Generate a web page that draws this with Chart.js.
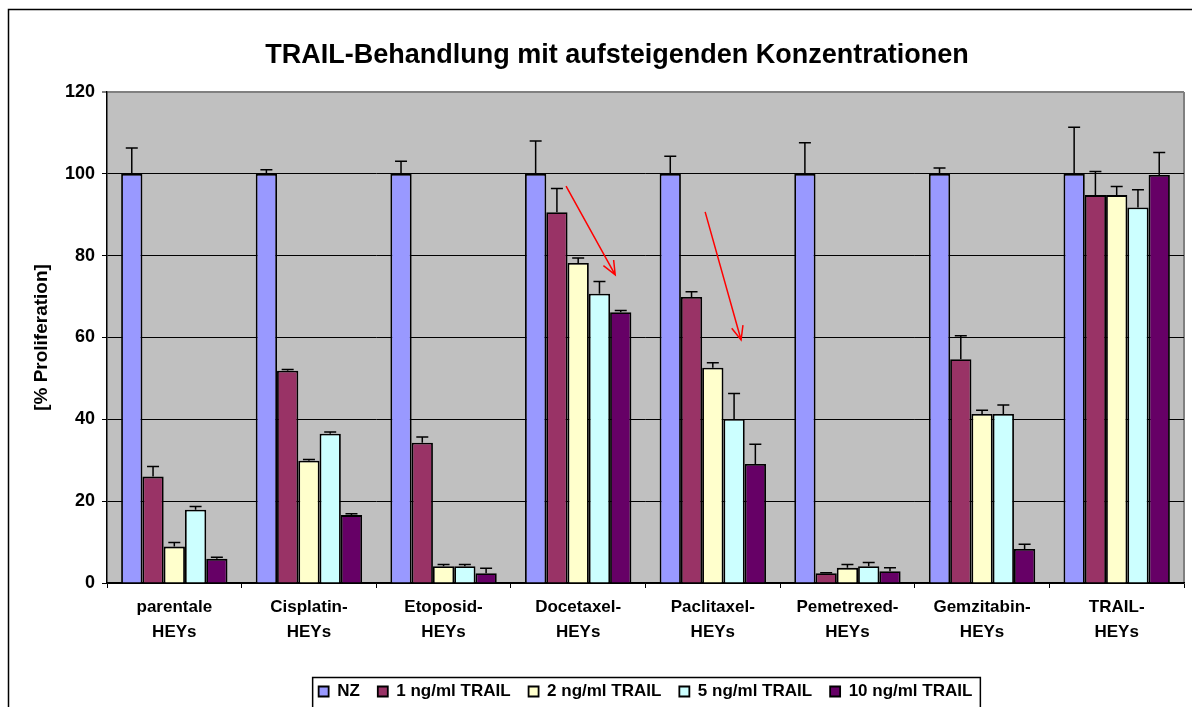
<!DOCTYPE html>
<html>
<head>
<meta charset="utf-8">
<script src="https://cdn.jsdelivr.net/npm/chart.js@4.4.1/dist/chart.umd.min.js"></script>
<style>
  html, body { margin:0; padding:0; overflow:hidden; background:#fff; }
  #wrap { width:1192px; height:710px; position:relative; }
</style>
</head>
<body>
<div id="wrap"><canvas id="chart"></canvas></div>
<script>
const categories = [
  ['parentale','HEYs'], ['Cisplatin-','HEYs'], ['Etoposid-','HEYs'], ['Docetaxel-','HEYs'],
  ['Paclitaxel-','HEYs'], ['Pemetrexed-','HEYs'], ['Gemzitabin-','HEYs'], ['TRAIL-','HEYs']
];
const seriesNames = ['NZ', '1 ng/ml TRAIL', '2 ng/ml TRAIL', '5 ng/ml TRAIL', '10 ng/ml TRAIL'];
const nz      = [100, 100, 100, 100, 100, 100, 100, 100];
const trail1  = [26.0, 51.9, 34.3, 90.6, 69.9, 2.4, 54.7, 94.8];
const trail2  = [8.9, 29.9, 4.1, 78.2, 52.6, 3.7, 41.3, 94.8];
const trail5  = [17.9, 36.5, 4.1, 70.7, 40.1, 4.1, 41.3, 91.8];
const trail10 = [5.9, 16.6, 2.4, 66.2, 29.1, 2.9, 8.3, 99.7];
const nzErr      = [6.3, 1.0, 3.1, 8.0, 4.3, 7.6, 1.4, 11.4];
const trail1Err  = [2.5, 0.3, 1.4, 5.8, 1.3, 0.1, 5.7, 5.8];
const trail2Err  = [1.0, 0.3, 0.4, 1.2, 1.2, 0.8, 0.9, 2.1];
const trail5Err  = [0.8, 0.4, 0.4, 3.0, 6.2, 0.9, 2.2, 4.3];
const trail10Err = [0.4, 0.3, 1.2, 0.4, 4.8, 0.8, 1.2, 5.5];
const yTicks = [0, 20, 40, 60, 80, 100, 120];
// red arrows: [category position, value]
const arrowFrom = [[2.91, 97.0], [3.943, 90.7]];
const arrowTo   = [[3.275, 75.3], [4.21, 59.4]];

const colors = ['#9999FF', '#993366', '#FFFFCC', '#CCFFFF', '#660066'];
const values = [nz, trail1, trail2, trail5, trail10];
const errors = [nzErr, trail1Err, trail2Err, trail5Err, trail10Err];
const FONT = '"Liberation Sans", Arial, sans-serif';

const backdrop = {
  id: 'backdrop',
  beforeDraw(chart) {
    const {ctx, chartArea: a} = chart;
    ctx.save();
    ctx.fillStyle = '#fff';
    ctx.fillRect(0, 0, chart.width, chart.height);
    ctx.strokeStyle = '#000';
    ctx.lineWidth = 1.5;
    ctx.strokeRect(8.5, 9.5, chart.width + 40, chart.height + 40);
    ctx.fillStyle = '#C0C0C0';
    ctx.fillRect(a.left, a.top, a.right - a.left, a.bottom - a.top);
    ctx.strokeStyle = '#808080';
    ctx.lineWidth = 2;
    ctx.beginPath();
    ctx.moveTo(a.right, a.top);
    ctx.lineTo(a.right, a.bottom);
    ctx.stroke();
    // legend frame
    const lg = chart.legend;
    if (lg && lg.legendHitBoxes.length) {
      const hb = lg.legendHitBoxes;
      const l = hb[0].left - 6;
      const r = hb[hb.length - 1].left + hb[hb.length - 1].width + 8;
      const t = hb[0].top + hb[0].height / 2 - 14;
      ctx.strokeStyle = '#000';
      ctx.lineWidth = 1.5;
      ctx.strokeRect(l, t, r - l, 60);
    }
    ctx.restore();
  }
};

const errorBars = {
  id: 'errorBars',
  afterDatasetsDraw(chart) {
    const {ctx} = chart;
    const y = chart.scales.y;
    ctx.save();
    ctx.strokeStyle = '#000';
    ctx.lineWidth = 1.5;
    chart.data.datasets.forEach((ds, i) => {
      const meta = chart.getDatasetMeta(i);
      meta.data.forEach((bar, j) => {
        const top = y.getPixelForValue(ds.data[j] + errors[i][j]);
        ctx.beginPath();
        ctx.moveTo(bar.x, bar.y);
        ctx.lineTo(bar.x, top);
        ctx.moveTo(bar.x - 6, top);
        ctx.lineTo(bar.x + 6, top);
        ctx.stroke();
      });
    });
    // arrows
    const x = chart.scales.x;
    ctx.strokeStyle = '#FF0000';
    ctx.lineWidth = 1.5;
    arrowFrom.forEach((p, k) => {
      const x0 = x.getPixelForValue(p[0]), y0 = y.getPixelForValue(p[1]);
      const x1 = x.getPixelForValue(arrowTo[k][0]), y1 = y.getPixelForValue(arrowTo[k][1]);
      const ang = Math.atan2(y1 - y0, x1 - x0);
      ctx.beginPath();
      ctx.moveTo(x0, y0);
      ctx.lineTo(x1, y1);
      ctx.moveTo(x1 - 15 * Math.cos(ang - 0.4), y1 - 15 * Math.sin(ang - 0.4));
      ctx.lineTo(x1, y1);
      ctx.lineTo(x1 - 15 * Math.cos(ang + 0.4), y1 - 15 * Math.sin(ang + 0.4));
      ctx.stroke();
    });
    ctx.restore();
  }
};

new Chart(document.getElementById('chart'), {
  type: 'bar',
  data: {
    labels: categories,
    datasets: values.map((v, i) => ({
      label: seriesNames[i],
      data: v,
      backgroundColor: colors[i],
      borderColor: '#000',
      borderWidth: 1.8,
      categoryPercentage: 0.79,
      barPercentage: 1.0
    }))
  },
  options: {
    responsive: true,
    maintainAspectRatio: false,
    animation: false,
    layout: { padding: { left: 50, right: 8, top: 39, bottom: 0 } },
    plugins: {
      title: {
        display: true,
        text: 'TRAIL-Behandlung mit aufsteigenden Konzentrationen',
        color: '#000',
        font: { family: FONT, size: 27, weight: 'bold', lineHeight: 1.2 },
        padding: { top: 0, bottom: 20.6 }
      },
      legend: {
        position: 'bottom',
        fullSize: false,
        labels: {
          color: '#000',
          boxWidth: 10,
          boxHeight: 10,
          padding: 18,
          font: { family: FONT, size: 17, weight: 'bold' }
        }
      },
      tooltip: { enabled: false }
    },
    scales: {
      x: {
        grid: { display: true, drawOnChartArea: false, drawTicks: true, tickLength: 5, color: '#000', lineWidth: 1 },
        border: { color: '#000', width: 1.5 },
        ticks: {
          color: '#000', padding: 7, maxRotation: 0, autoSkip: false,
          font: { family: FONT, size: 17, weight: 'bold', lineHeight: 1.47 }
        },
        afterFit(s) { s.height = 82; }
      },
      y: {
        min: 0, max: 120,
        afterBuildTicks(s) { s.ticks = yTicks.map(v => ({ value: v })); },
        grid: {
          color: ctx => (ctx.tick && ctx.tick.value === 120 ? '#808080' : '#000'),
          lineWidth: ctx => (ctx.tick && ctx.tick.value === 120 ? 2 : 1),
          tickLength: 5, drawTicks: true
        },
        border: { color: '#000', width: 1.5 },
        ticks: { color: '#000', padding: 7, font: { family: FONT, size: 18, weight: 'bold' } },
        title: {
          display: true,
          text: '[% Proliferation]',
          color: '#000',
          font: { family: FONT, size: 19, weight: 'bold', lineHeight: 1.2 },
          padding: { top: -20, bottom: 0 }
        },
        afterFit(s) { s.width = 57; }
      }
    }
  },
  plugins: [backdrop, errorBars]
});
</script>
</body>
</html>
